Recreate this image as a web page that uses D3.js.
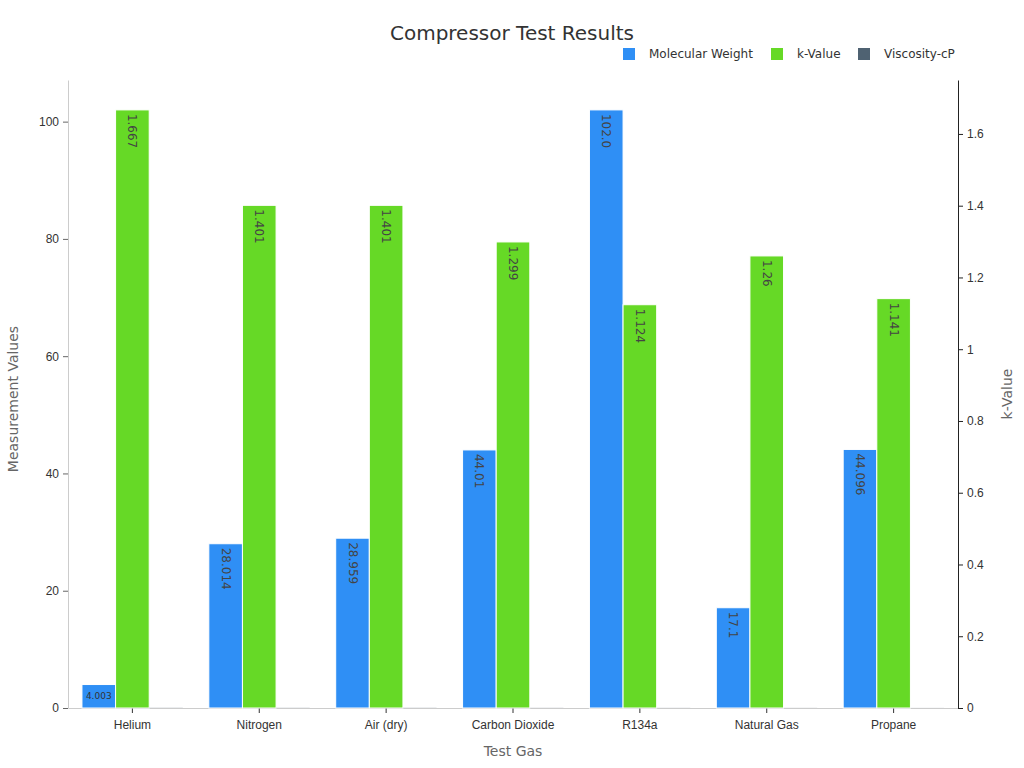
<!DOCTYPE html>
<html>
<head>
<meta charset="utf-8">
<script src="https://d3js.org/d3.v7.min.js"></script>
<style>
  body { margin: 0; background: #fff; font-family: "DejaVu Sans", sans-serif; }
  .tick text { fill: #333; font-size: 12px; }
</style>
</head>
<body>
<div id="chart"></div>
<script>
  // data
  const gases = ['Helium', 'Nitrogen', 'Air (dry)', 'Carbon Dioxide', 'R134a', 'Natural Gas', 'Propane'];
  const molWeight = [4.003, 28.014, 28.959, 44.01, 102.0, 17.1, 44.096];
  const molWeightLabels = ['4.003', '28.014', '28.959', '44.01', '102.0', '17.1', '44.096'];
  const kValue = [1.667, 1.401, 1.401, 1.299, 1.124, 1.26, 1.141];
  const viscosity = [0.0199, 0.0178, 0.0185, 0.015, 0.012, 0.011, 0.0081];
  const seriesNames = ['Molecular Weight', 'k-Value', 'Viscosity-cP'];
  const colors = ['#2f8ff5', '#66d926', '#4f6272'];
  const leftTicks = [0, 20, 40, 60, 80, 100];
  const rightTicks = [0, 0.2, 0.4, 0.6, 0.8, 1, 1.2, 1.4, 1.6];

  const w = 1024, h = 768;
  const m = {top: 80, right: 66, bottom: 60, left: 68};
  const iw = w - m.left - m.right, ih = h - m.top - m.bottom;

  const svg = d3.select('#chart').append('svg')
      .attr('width', w).attr('height', h);

  const x = d3.scaleBand().domain(gases).range([0, iw])
      .paddingInner(0.205).paddingOuter(0.11);
  const sub = d3.scaleBand().domain(seriesNames).range([0, x.bandwidth()]);
  const yL = d3.scaleLinear().domain([0, 102.0 * 1.05]).range([ih, 0]);
  const yR = d3.scaleLinear().domain([0, 1.667 * 1.05]).range([ih, 0]);

  const g = svg.append('g').attr('transform', `translate(${m.left},${m.top})`);

  // axes
  const xAxis = g.append('g').attr('transform', `translate(0,${ih})`)
      .call(d3.axisBottom(x).tickSize(5).tickSizeOuter(0));
  xAxis.select('.domain').attr('stroke', '#ccc');
  xAxis.selectAll('.tick line').attr('stroke', '#333');
  xAxis.selectAll('.tick text').attr('dy', '1.1em');

  const yAxisL = g.append('g')
      .call(d3.axisLeft(yL).tickValues(leftTicks).tickSize(5).tickSizeOuter(0));
  yAxisL.select('.domain').attr('stroke', '#ccc');
  yAxisL.selectAll('.tick line').attr('stroke', '#666');
  yAxisL.selectAll('.tick text').attr('x', -9);

  const yAxisR = g.append('g').attr('transform', `translate(${iw},0)`)
      .call(d3.axisRight(yR).tickValues(rightTicks).tickFormat(d => String(d)).tickSize(5).tickSizeOuter(0));
  yAxisR.select('.domain').attr('stroke', '#222');
  yAxisR.selectAll('.tick line').attr('stroke', '#222');
  yAxisR.selectAll('.tick text').attr('x', 9);

  // bars
  const groups = g.selectAll('.grp').data(gases).join('g')
      .attr('class', 'grp')
      .attr('transform', d => `translate(${x(d)},0)`);

  groups.append('rect')
      .attr('x', sub('Molecular Weight'))
      .attr('y', (d, i) => yL(molWeight[i]))
      .attr('width', sub.bandwidth())
      .attr('height', (d, i) => ih - yL(molWeight[i]))
      .attr('fill', colors[0])
      .attr('stroke', '#fff').attr('stroke-width', 1);

  groups.append('rect')
      .attr('x', sub('k-Value'))
      .attr('y', (d, i) => yR(kValue[i]))
      .attr('width', sub.bandwidth())
      .attr('height', (d, i) => ih - yR(kValue[i]))
      .attr('fill', colors[1])
      .attr('stroke', '#fff').attr('stroke-width', 1);

  groups.append('rect')
      .attr('x', sub('Viscosity-cP'))
      .attr('y', (d, i) => yL(viscosity[i]))
      .attr('width', sub.bandwidth())
      .attr('height', (d, i) => ih - yL(viscosity[i]))
      .attr('fill', colors[2]);

  // value labels
  groups.each(function(d, i) {
    const grp = d3.select(this);
    const bx = sub('Molecular Weight') + sub.bandwidth() / 2;
    const barH = ih - yL(molWeight[i]);
    if (barH < 40) {
      grp.append('text')
          .attr('x', bx).attr('y', ih - barH / 2)
          .attr('text-anchor', 'middle').attr('dominant-baseline', 'central')
          .attr('font-size', 9).attr('fill', '#333')
          .text(molWeightLabels[i]);
    } else {
      grp.append('text')
          .attr('transform', `translate(${bx},${yL(molWeight[i]) + 4}) rotate(90)`)
          .attr('dominant-baseline', 'central')
          .attr('font-size', 12).attr('fill', '#444')
          .text(molWeightLabels[i]);
    }
    const kx = sub('k-Value') + sub.bandwidth() / 2;
    grp.append('text')
        .attr('transform', `translate(${kx},${yR(kValue[i]) + 4}) rotate(90)`)
        .attr('dominant-baseline', 'central')
        .attr('font-size', 12).attr('fill', '#444')
        .text(kValue[i]);
  });

  // axis titles
  svg.append('text')
      .attr('x', m.left + iw / 2).attr('y', 756)
      .attr('text-anchor', 'middle').attr('font-size', 14).attr('fill', '#666')
      .text('Test Gas');
  svg.append('text')
      .attr('transform', `translate(18,${m.top + ih / 2 + 5}) rotate(-90)`)
      .attr('text-anchor', 'middle').attr('font-size', 14).attr('fill', '#666')
      .text('Measurement Values');
  svg.append('text')
      .attr('transform', `translate(1012,${m.top + ih / 2}) rotate(-90)`)
      .attr('text-anchor', 'middle').attr('font-size', 14).attr('fill', '#666')
      .text('k-Value');

  // title
  svg.append('text')
      .attr('x', 512).attr('y', 40)
      .attr('text-anchor', 'middle').attr('font-size', 20).attr('fill', '#333')
      .text('Compressor Test Results');

  // legend
  const legX = [623, 771, 858];
  const leg = svg.selectAll('.leg').data(seriesNames).join('g')
      .attr('class', 'leg')
      .attr('transform', (d, i) => `translate(${legX[i]},48)`);
  leg.append('rect').attr('width', 12).attr('height', 12)
      .attr('fill', (d, i) => colors[i]);
  leg.append('text').attr('x', 26).attr('y', 6)
      .attr('dominant-baseline', 'central')
      .attr('font-size', 12).attr('fill', '#333')
      .text(d => d);
</script>
</body>
</html>
